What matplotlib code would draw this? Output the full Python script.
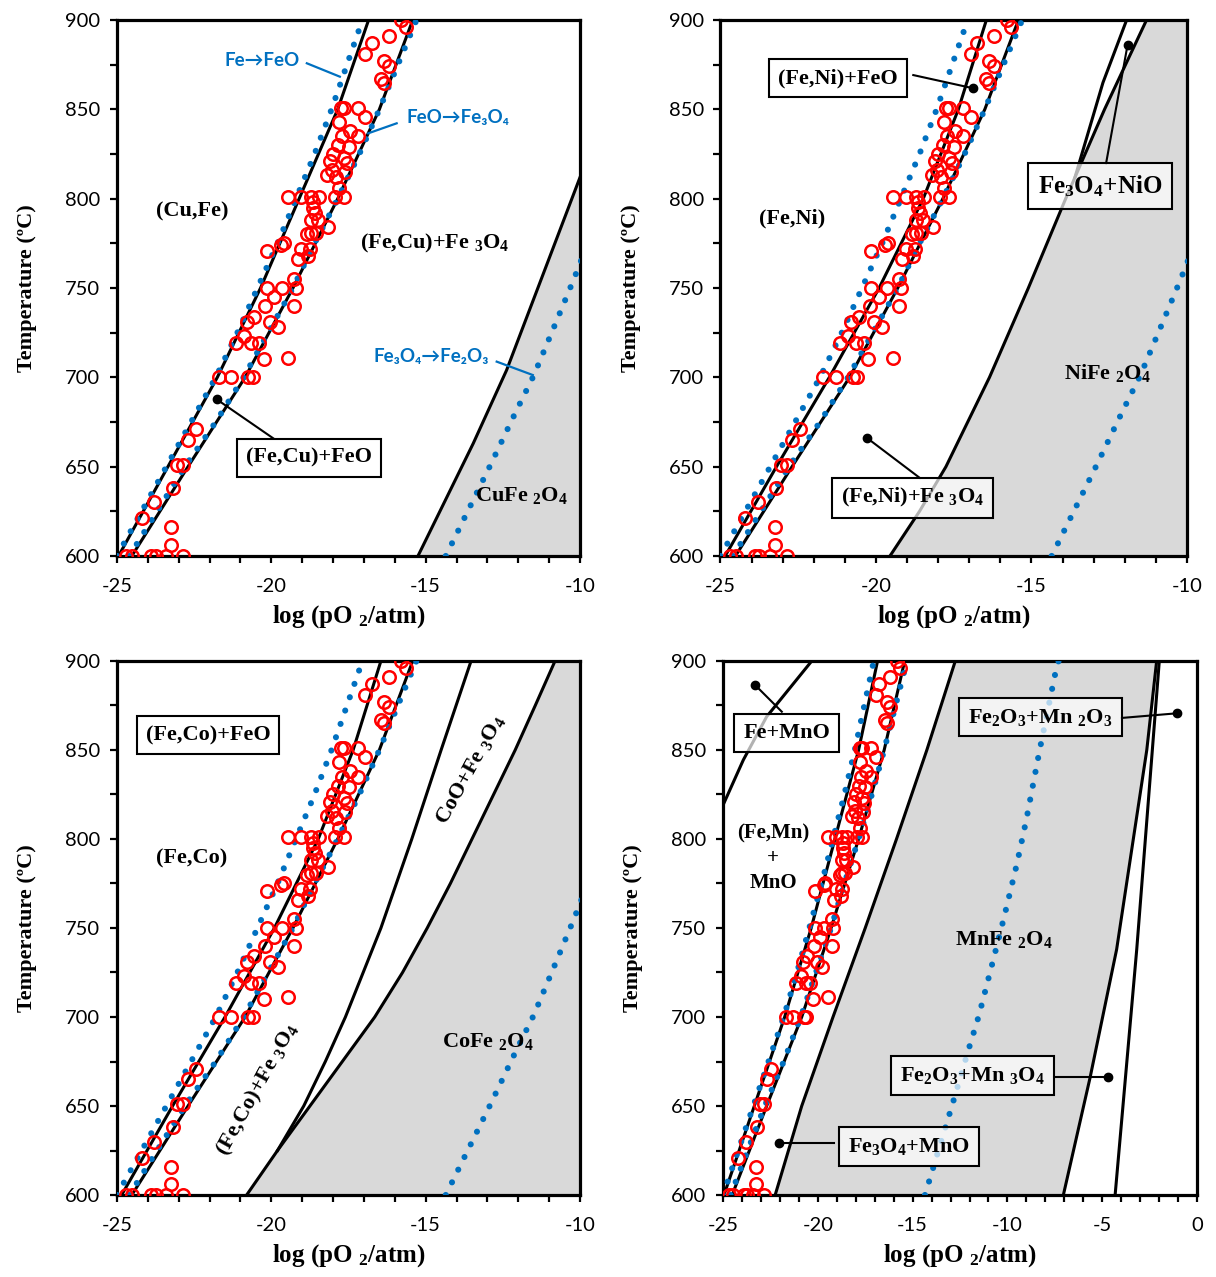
import numpy as np
import matplotlib
matplotlib.use("Agg")
import matplotlib.pyplot as plt
from matplotlib.ticker import MultipleLocator

plt.rcParams['mathtext.fontset'] = 'custom'
plt.rcParams['mathtext.rm'] = 'Liberation Serif:bold'
plt.rcParams['mathtext.it'] = 'Liberation Serif:bold'
plt.rcParams['mathtext.bf'] = 'Liberation Serif:bold'
plt.rcParams['axes.unicode_minus'] = False

SERIF = 'Liberation Serif'
SANS = ['Lato', 'DejaVu Sans']
BLUE = '#0070C0'
RED = '#FF0000'
GREY = '#D9D9D9'

# experimental points (log pO2, T in degC), same set on every panel
exp_logpo2 = [-15.8, -15.65, -16.2, -16.75, -16.95, -16.35, -16.2, -16.45, -16.35,
              -17.65, -17.75, -17.2, -16.95, -17.8, -17.45, -17.7, -17.2, -17.85, -17.5,
              -18.0, -17.65, -18.1, -17.55, -18.05, -17.6, -18.2, -17.9, -17.8,
              -19.45, -19.05, -18.7, -18.45, -18.65, -17.95, -17.65, -18.65,
              -18.6, -18.7, -18.5, -18.15, -18.7, -18.85, -18.55,
              -19.6, -19.7, -20.15, -19.05, -18.75, -19.15, -18.8,
              -19.25, -19.2, -19.65, -20.15, -19.9, -20.2, -19.25,
              -20.55, -20.8, -20.05, -19.8, -20.9, -21.15, -20.65, -20.4,
              -20.25, -19.45,
              -21.7, -21.3, -20.75, -20.6,
              -22.45, -22.7, -23.05, -22.85, -23.2, -23.8, -24.2, -23.25, -23.25,
              -24.7, -24.5, -23.9, -23.75, -23.4, -22.85]
exp_temp = [900, 896, 891, 887, 881, 877, 874, 867, 865,
            851, 851, 851, 846, 843, 838, 835, 835, 830, 829,
            825, 823, 821, 820, 816, 815, 813, 812, 806,
            801, 801, 801, 801, 798, 801, 801, 795,
            792, 788, 788, 784, 781, 780, 781,
            775, 774, 771, 772, 772, 766, 768,
            755, 750, 750, 750, 745, 740, 740,
            734, 731, 731, 728, 723, 719, 719, 719,
            710, 711,
            700, 700, 700, 700,
            671, 665, 651, 651, 638, 630, 621, 616, 606,
            600, 600, 600, 600, 600, 600]

# iron-oxygen equilibria (dotted)
T_grid = [600, 625, 650, 675, 700, 725, 750, 775, 800, 825, 850, 875, 900]
fe_feo = [-25.0, -24.2, -23.4, -22.6, -21.8, -21.1, -20.45, -19.8, -19.2, -18.6, -18.05, -17.55, -17.05]
feo_fe3o4 = [-24.6, -23.7, -22.8, -21.8, -20.9, -20.1, -19.3, -18.6, -17.85, -17.15, -16.5, -15.9, -15.3]
fe3o4_fe2o3_x = [-14.35, -12.9, -12.1, -11.5, -10.75, -10.2, -9.5, -9.0, -8.3, -7.4, -7.3]
fe3o4_fe2o3_T = [600, 651, 680, 701, 732, 755, 786, 811, 850, 897, 900]

# phase boundaries shared by all systems
T_b = [600, 650, 700, 750, 800, 850, 900]
alloy_feo_cu = [-24.95, -23.35, -21.75, -20.35, -19.1, -17.85, -16.85]
alloy_feo_ni = [-24.85, -23.2, -21.5, -19.9, -18.48, -17.35, -16.45]
feo_spinel = [-24.52, -22.7, -20.85, -19.3, -17.85, -16.5, -15.42]

# Cu-Fe-O
cufe2o4_x = [-15.25, -13.46, -12.38, -11.3, -10.0]
cufe2o4_T = [600, 663, 704, 753, 812]

# Ni-Fe-O
nife2o4_x = [-19.55, -18.6, -17.75, -16.35, -15.1, -13.9, -12.65, -11.3]
nife2o4_T = [600, 625, 650, 700, 750, 800, 850, 900]
nio_x = [-13.6, -12.7, -11.94]
nio_T = [812, 865, 900]

# Co-Fe-O
T_co = [600, 625, 650, 675, 700, 725, 750, 775, 800, 825, 850, 875, 900]
cofe2o4_x = [-20.8, -19.8, -18.75, -17.7, -16.65, -15.75, -14.95, -14.2, -13.5, -12.8, -12.1, -11.45, -10.81]
coo_x = [-19.8, -18.95, -18.25, -17.6, -16.45, -15.45, -14.5, -13.53]
coo_T = [625, 650, 675, 700, 750, 800, 850, 900]

# Mn-Fe-O
fe_mno_x = [-25.0, -23.93, -22.7, -20.32]
fe_mno_T = [819, 844.4, 868.7, 900]
mnfe2o4_lo_x = [-22.25, -20.85, -19.2, -17.5, -15.85, -14.25, -12.75]
mnfe2o4_lo_T = [600, 650, 700, 750, 800, 850, 900]
mnfe2o4_hi_x = [-7.05, -5.64, -4.24, -2.65, -2.13]
mnfe2o4_hi_T = [600, 666, 738, 850, 900]
mn2o3_x = [-4.32, -3.18, -1.99]
mn2o3_T = [600, 738, 900]

fig = plt.figure(figsize=(12.16, 12.77), dpi=100)
ax1 = fig.add_axes([0.0962, 0.5646, 0.3808, 0.4197])
ax2 = fig.add_axes([0.5925, 0.5646, 0.3836, 0.4197])
ax3 = fig.add_axes([0.0962, 0.0642, 0.3808, 0.4182])
ax4 = fig.add_axes([0.5946, 0.0642, 0.3898, 0.4182])


def frame(ax, xmin, xmax):
    ax.set_xlim(xmin, xmax)
    ax.set_ylim(600, 900)
    ax.xaxis.set_major_locator(MultipleLocator(5))
    ax.xaxis.set_minor_locator(MultipleLocator(1))
    ax.yaxis.set_major_locator(MultipleLocator(50))
    ax.yaxis.set_minor_locator(MultipleLocator(25))
    ax.tick_params(which='both', direction='out', length=5, width=1.6,
                   top=False, right=False)
    ax.tick_params(which='major', labelsize=14.5, pad=7)
    ax.tick_params(axis='x', which='major', pad=11)
    for lab in ax.get_xticklabels() + ax.get_yticklabels():
        lab.set_family(SANS)
    for sp in ax.spines.values():
        sp.set_linewidth(2.3)
    ax.set_xlabel(r'log (pO $_2$/atm)', family=SERIF, weight='bold', fontsize=18, labelpad=6)
    ax.set_ylabel('Temperature (ºC)', family=SERIF, weight='bold', fontsize=16, labelpad=20)


def dotted(ax, x, y):
    ax.plot(x, y, color=BLUE, lw=4.4, linestyle=(0, (0.01, 2.3)),
            dash_capstyle='round', zorder=3)


def solid(ax, x, y):
    ax.plot(x, y, color='black', lw=2.2, zorder=2)


def common(ax):
    dotted(ax, fe_feo, T_grid)
    dotted(ax, feo_fe3o4, T_grid)
    dotted(ax, fe3o4_fe2o3_x, fe3o4_fe2o3_T)
    solid(ax, feo_spinel, T_b)
    ax.plot(exp_logpo2, exp_temp, 'o', ms=9, mfc='none', mec=RED, mew=1.8,
            linestyle='none', zorder=4)


def label(ax, x, y, s, size=16, box=False, rot=0):
    kw = dict(family=SERIF, weight='bold', fontsize=size, ha='center', va='center',
              rotation=rot, zorder=6, linespacing=1.3)
    if box:
        kw['bbox'] = dict(boxstyle='square,pad=0.4', fc=(1, 1, 1, 0.7), ec='black', lw=1.5)
    ax.text(x, y, s, **kw)


def pointer(ax, x0, y0, x1, y1):
    ax.plot([x0, x1], [y0, y1], color='black', lw=1.5, zorder=5)
    ax.plot([x1], [y1], 'o', color='black', ms=6, zorder=5)


def blue_note(ax, x, y, s, x0, y0, x1, y1):
    ax.text(x, y, s, family=SANS, weight='bold', fontsize=13.5, color=BLUE,
            ha='center', va='center', zorder=6)
    ax.plot([x0, x1], [y0, y1], color=BLUE, lw=1.6, zorder=5)


# Cu-Fe-O
ax = ax1
ax.fill(cufe2o4_x + [-10.0], cufe2o4_T + [600], color=GREY, lw=0, zorder=0)
solid(ax, alloy_feo_cu, T_b)
solid(ax, cufe2o4_x, cufe2o4_T)
common(ax)
frame(ax, -25, -10)
blue_note(ax, -20.3, 877.6, 'Fe→FeO', -18.85, 875.8, -17.78, 868.3)
blue_note(ax, -13.95, 845.2, 'FeO→Fe₃O₄', -15.94, 842.2, -16.86, 836.6)
blue_note(ax, -14.83, 711.4, 'Fe₃O₄→Fe₂O₃', -12.7, 708.8, -11.53, 701.3)
label(ax, -22.57, 793.1, '(Cu,Fe)')
label(ax, -14.7, 775.2, r'(Fe,Cu)+Fe $_3$O$_4$')
label(ax, -18.78, 654.9, '(Fe,Cu)+FeO', box=True)
pointer(ax, -19.94, 665.9, -21.77, 687.7)
label(ax, -11.91, 633.6, r'CuFe $_2$O$_4$')

# Ni-Fe-O
ax = ax2
ax.fill(nife2o4_x + [-10.0, -10.0], nife2o4_T + [900, 600], color=GREY, lw=0, zorder=0)
solid(ax, alloy_feo_ni, T_b)
solid(ax, nife2o4_x, nife2o4_T)
solid(ax, nio_x, nio_T)
common(ax)
frame(ax, -25, -10)
label(ax, -21.22, 867.5, '(Fe,Ni)+FeO', box=True)
pointer(ax, -18.8, 869.2, -16.87, 861.8)
label(ax, -22.7, 789.2, '(Fe,Ni)')
label(ax, -12.8, 807.1, r'Fe$_3$O$_4$+NiO', size=18, box=True)
pointer(ax, -12.6, 819.8, -11.91, 886.0)
label(ax, -12.57, 702.5, r'NiFe $_2$O$_4$')
label(ax, -18.81, 632.5, r'(Fe,Ni)+Fe $_3$O$_4$', box=True)
pointer(ax, -18.59, 643.7, -20.29, 666.1)

# Co-Fe-O
ax = ax3
ax.fill(cofe2o4_x + [-10.0, -10.0], T_co + [900, 600], color=GREY, lw=0, zorder=0)
solid(ax, alloy_feo_ni, T_b)
solid(ax, cofe2o4_x, T_co)
solid(ax, coo_x, coo_T)
common(ax)
frame(ax, -25, -10)
label(ax, -22.05, 858.4, '(Fe,Co)+FeO', box=True)
label(ax, -22.57, 789.3, '(Fe,Co)')
label(ax, -13.56, 838.8, r'CoO+Fe $_3$O$_4$', rot=61)
label(ax, -20.43, 659.0, r'(Fe,Co)+Fe $_3$O$_4$', rot=61)
label(ax, -12.98, 686.5, r'CoFe $_2$O$_4$')

# Mn-Fe-O
ax = ax4
ax.fill(mnfe2o4_lo_x + mnfe2o4_hi_x[::-1], mnfe2o4_lo_T + mnfe2o4_hi_T[::-1],
        color=GREY, lw=0, zorder=0)
solid(ax, alloy_feo_cu, T_b)
solid(ax, fe_mno_x, fe_mno_T)
solid(ax, mnfe2o4_lo_x, mnfe2o4_lo_T)
solid(ax, mnfe2o4_hi_x, mnfe2o4_hi_T)
solid(ax, mn2o3_x, mn2o3_T)
common(ax)
frame(ax, -25, 0)
label(ax, -21.65, 859.6, 'Fe+MnO', box=True)
pointer(ax, -21.9, 871.5, -23.31, 886.5)
label(ax, -22.36, 789.3, '(Fe,Mn)\n+\nMnO', size=15)
label(ax, -8.25, 868.5, r'Fe$_2$O$_3$+Mn $_2$O$_3$', box=True)
pointer(ax, -3.97, 868.0, -1.07, 870.6)
label(ax, -10.18, 743.8, r'MnFe $_2$O$_4$')
label(ax, -11.84, 667.0, r'Fe$_2$O$_3$+Mn $_3$O$_4$', box=True)
pointer(ax, -7.54, 666.1, -4.68, 666.1)
label(ax, -15.19, 627.4, r'Fe$_3$O$_4$+MnO', box=True)
pointer(ax, -19.15, 629.4, -22.05, 629.4)

fig.savefig('out.png', dpi=100)
